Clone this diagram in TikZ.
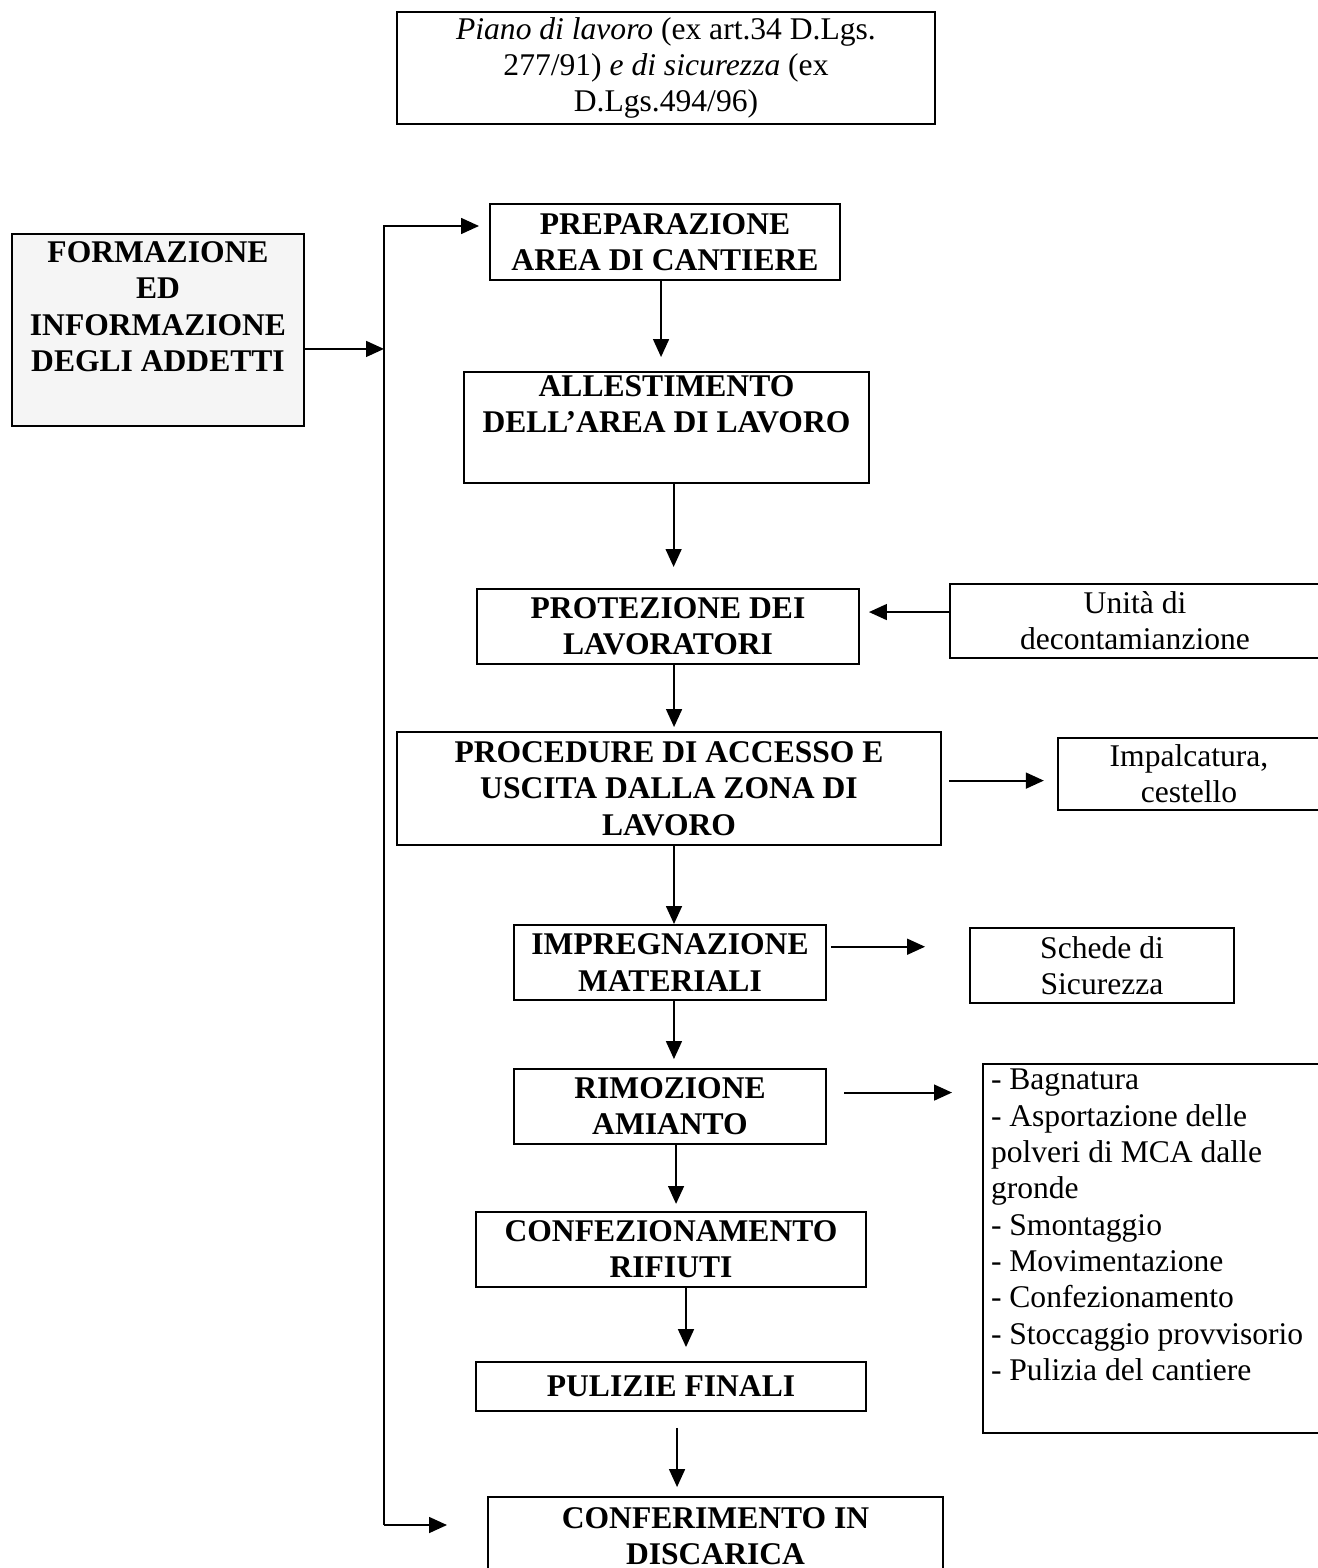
\documentclass[tikz,border=0pt]{standalone}
\usepackage{fontspec}
\setmainfont{Liberation Serif}
\usetikzlibrary{arrows.meta}

\newlength{\pxu}
\setlength{\pxu}{0.38pt}
\newcommand{\fluxsize}{\fontsize{12pt}{13.8pt}\selectfont}

\begin{document}
\begin{tikzpicture}[
  x=0.38pt, y=-0.38pt,
  fluxbox/.style = {draw, line width=0.75pt, align=center, inner sep=0pt,
    font=\fluxsize\bfseries},
  fluxnote/.style = {draw, line width=0.75pt, align=center, inner sep=0pt,
    font=\fluxsize},
  fluxline/.style = {line width=0.75pt},
  fluxarrow/.style = {line width=0.75pt, -{Triangle[length=6.8pt, width=6pt]}}
]
  \useasboundingbox (0,0) rectangle (1317,1568);
  % piani
  \node[fluxnote, minimum width=538\pxu, minimum height=112\pxu] (piano) at (666,68)
    {\textit{Piano di lavoro} (ex art.34 D.Lgs.\\277/91) \textit{e di sicurezza} (ex\\D.Lgs.494/96)};
  \node[fluxbox, fill=gray!8, minimum width=292\pxu, minimum height=192\pxu] (form) at (158,330)
    {FORMAZIONE\\ED\\INFORMAZIONE\\DEGLI ADDETTI\\\strut};
  % fasi di lavoro
  \node[fluxbox, minimum width=350\pxu, minimum height=76\pxu] (prep) at (665,242)
    {PREPARAZIONE\\AREA DI CANTIERE};
  \node[fluxbox, minimum width=405\pxu, minimum height=111\pxu] (allest) at (666.5,427.5)
    {ALLESTIMENTO\\DELL'AREA DI LAVORO\\\strut};
  \node[fluxbox, minimum width=382\pxu, minimum height=75\pxu] (protez) at (668,626.5)
    {PROTEZIONE DEI\\LAVORATORI};
  \node[fluxbox, minimum width=544\pxu, minimum height=113\pxu] (proced) at (669,788.5)
    {PROCEDURE DI ACCESSO E\\USCITA DALLA ZONA DI\\LAVORO};
  \node[fluxbox, minimum width=312\pxu, minimum height=75\pxu] (impreg) at (670,962.5)
    {IMPREGNAZIONE\\MATERIALI};
  \node[fluxbox, minimum width=312\pxu, minimum height=75\pxu] (rimoz) at (670,1106.5)
    {RIMOZIONE\\AMIANTO};
  \node[fluxbox, minimum width=390\pxu, minimum height=75\pxu] (confez) at (671,1249.5)
    {CONFEZIONAMENTO\\RIFIUTI};
  \node[fluxbox, minimum width=390\pxu, minimum height=49\pxu] (pulizie) at (671,1386.5)
    {PULIZIE FINALI};
  \node[fluxbox, minimum width=455\pxu, minimum height=78\pxu] (conferim) at (715.5,1536)
    {CONFERIMENTO IN\\DISCARICA};
  % note a destra
  \node[fluxnote, minimum width=370\pxu, minimum height=74\pxu] (unita) at (1135,621)
    {Unità di\\decontamianzione};
  \node[fluxnote, minimum width=262\pxu, minimum height=72\pxu] (impalc) at (1189,774)
    {Impalcatura,\\cestello};
  \node[fluxnote, minimum width=264\pxu, minimum height=75\pxu] (schede) at (1102,965.5)
    {Schede di\\Sicurezza};
  \node[fluxnote, anchor=north west, align=flush left, text width=330\pxu, inner xsep=8\pxu,
    minimum height=369\pxu] (lista) at (982,1063)
    {- Bagnatura\\- Asportazione delle\\polveri di MCA dalle\\gronde\\- Smontaggio\\
     - Movimentazione\\- Confezionamento\\- Stoccaggio provvisorio\\- Pulizia del cantiere\\\strut};

  % linea verticale di collegamento
  \coordinate (bustop) at (384,226);
  \coordinate (busbot) at (384,1525);
  \draw[fluxarrow] ([yshift=-7.2pt]form.east) coordinate (fout) -- (fout -| bustop);
  \draw[fluxarrow, shorten >=3.8pt] (busbot) -- (bustop) -- (bustop -| prep.west);
  \draw[fluxarrow, shorten >=15.2pt] (busbot) -- (busbot -| conferim.west);

  % sequenza principale
  \draw[fluxarrow, shorten >=5.3pt] ([xshift=-1.5pt]prep.south) -- ([xshift=-1.5pt]prep.south |- allest.north);
  \draw[fluxarrow, shorten >=8pt] ([xshift=2.7pt]allest.south) -- ([xshift=2.7pt]allest.south |- protez.north);
  \draw[fluxarrow, shorten >=1.5pt] ([xshift=2.3pt]protez.south) -- ([xshift=2.3pt]protez.south |- proced.north);
  \draw[fluxarrow] ([xshift=1.9pt]proced.south) -- ([xshift=1.9pt]proced.south |- impreg.north);
  \draw[fluxarrow, shorten >=3.4pt] ([xshift=1.5pt]impreg.south) -- ([xshift=1.5pt]impreg.south |- rimoz.north);
  \draw[fluxarrow, shorten >=2.7pt] ([xshift=2.3pt]rimoz.south) -- ([xshift=2.3pt]rimoz.south |- confez.north);
  \draw[fluxarrow, shorten >=5.3pt] ([xshift=5.7pt]confez.south) -- ([xshift=5.7pt]confez.south |- pulizie.north);
  \draw[fluxarrow, shorten <=6pt, shorten >=3.4pt] ([xshift=2.3pt]pulizie.south) -- ([xshift=2.3pt]pulizie.south |- conferim.north);

  % collegamenti laterali
  \draw[fluxarrow, shorten >=3.4pt] ([yshift=3.4pt]unita.west) coordinate (uout) -- (uout -| protez.east);
  \draw[fluxarrow, shorten <=2.7pt, shorten >=5pt] ([yshift=3pt]proced.east) coordinate (pout) -- (pout -| impalc.west);
  \draw[fluxarrow, shorten <=1.5pt, shorten >=16.7pt] ([yshift=6pt]impreg.east) coordinate (iout) -- (iout -| schede.west);
  \draw[fluxarrow, shorten <=6.5pt, shorten >=11.4pt] ([yshift=5.3pt]rimoz.east) coordinate (rout) -- (rout -| lista.west);
\end{tikzpicture}
\end{document}
